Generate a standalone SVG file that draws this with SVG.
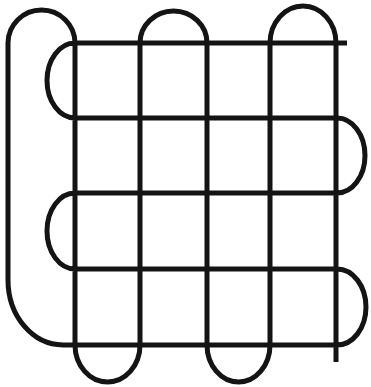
<svg xmlns="http://www.w3.org/2000/svg" width="371" height="387" viewBox="0 0 371 387">
<style>
.ln{fill:none;stroke:#141414;stroke-width:5;stroke-linejoin:round;stroke-linecap:butt}
</style>
<rect width="371" height="387" fill="#fff"/>
<g id="weave">
<path class="ln" d="M347,43 H75 A28,37.5 0 0 0 75,118 H337 A28,37.5 0 0 1 337,193 H75 A28,38 0 0 0 75,269 H337 A29,38 0 0 1 337,345 H63 A55,65 0 0 1 8,280 V43 A33.5,33 0 0 1 75,43 V345 A32.5,37 0 0 0 140,345 V43 A33.5,32 0 0 1 207,43 V345 A31.5,37 0 0 0 270,345 V43 A33,37 0 0 1 336,43 V362"/>
</g>
</svg>
